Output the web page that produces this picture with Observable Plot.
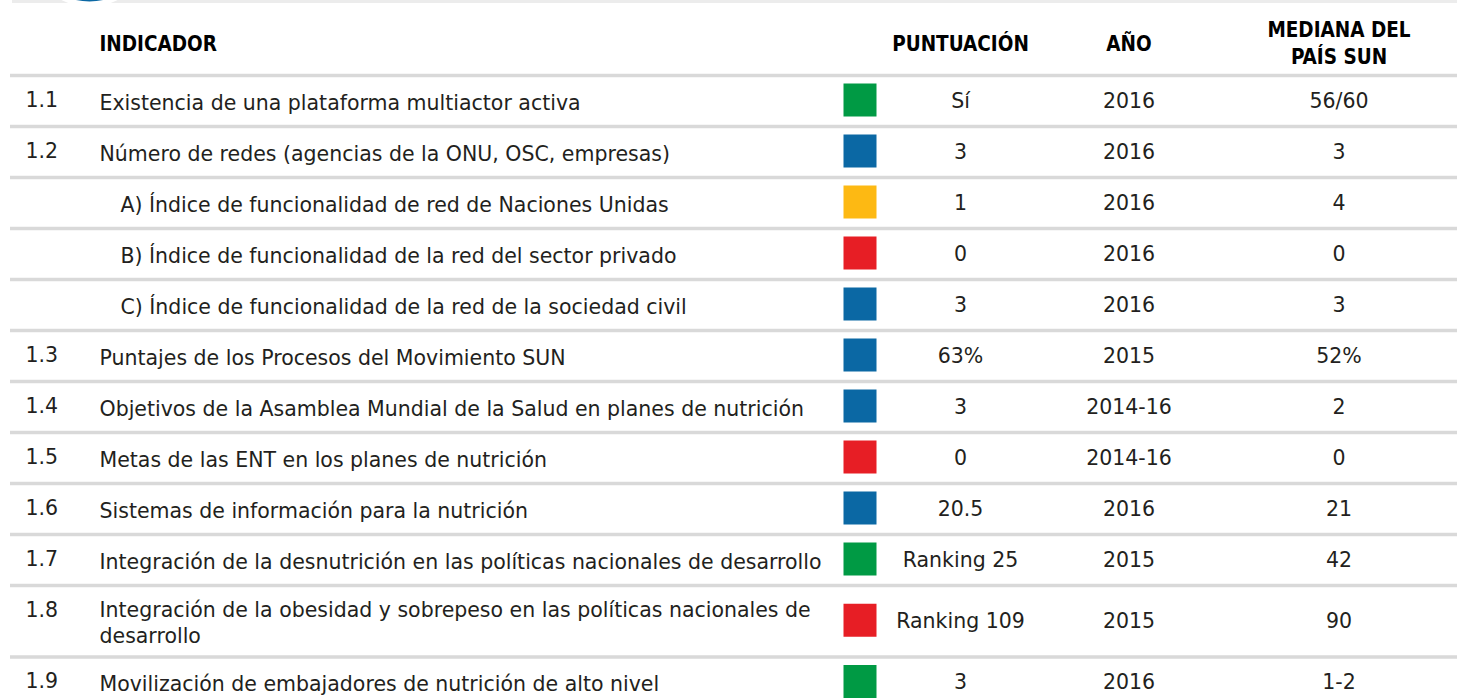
<!DOCTYPE html>
<html>
<head>
<meta charset="utf-8">
<script src="https://cdn.jsdelivr.net/npm/d3@7"></script>
<script src="https://cdn.jsdelivr.net/npm/@observablehq/plot@0.6"></script>
<style>
  html, body { margin: 0; padding: 0; background: #fff; }
  #chart svg { display: block; }
</style>
</head>
<body>
<div id="chart"></div>
<script>
// ---------- DATA ----------
const ids = ["1.1", "1.2", "", "", "", "1.3", "1.4", "1.5", "1.6", "1.7", "1.8", "1.9"];
const indicators = [
  "Existencia de una plataforma multiactor activa",
  "Número de redes (agencias de la ONU, OSC, empresas)",
  "A) Índice de funcionalidad de red de Naciones Unidas",
  "B) Índice de funcionalidad de la red del sector privado",
  "C) Índice de funcionalidad de la red de la sociedad civil",
  "Puntajes de los Procesos del Movimiento SUN",
  "Objetivos de la Asamblea Mundial de la Salud en planes de nutrición",
  "Metas de las ENT en los planes de nutrición",
  "Sistemas de información para la nutrición",
  "Integración de la desnutrición en las políticas nacionales de desarrollo",
  "Integración de la obesidad y sobrepeso en las políticas nacionales de\ndesarrollo",
  "Movilización de embajadores de nutrición de alto nivel"
];
const isSubItem = [false, false, true, true, true, false, false, false, false, false, false, false];
const statuses = ["verde", "azul", "amarillo", "rojo", "azul", "azul", "azul", "rojo", "azul", "verde", "rojo", "verde"];
const scores = ["Sí", "3", "1", "0", "3", "63%", "3", "0", "20.5", "Ranking 25", "Ranking 109", "3"];
const years = ["2016", "2016", "2016", "2016", "2016", "2015", "2014-16", "2014-16", "2016", "2015", "2015", "2016"];
const medians = ["56/60", "3", "4", "0", "3", "52%", "2", "0", "21", "42", "90", "1-2"];

const headerKeys = ["text", "score", "year", "median"];
const headerLabels = ["INDICADOR", "PUNTUACIÓN", "AÑO", "MEDIANA DEL\nPAÍS SUN"];

const statusDomain = ["verde", "azul", "amarillo", "rojo"];
const statusColors = ["#009a44", "#0b68a4", "#fdb913", "#e71e25"];

// ---------- LAYOUT ----------
const W = 1457, H = 700;
const TOP = 75;         // px where the first row starts
const ROW = 51;         // px of a one-line row
const EXTRA_LINE = 0.4; // extra row units per additional text line
const L = {
  ruleLeft: 10, bandLeft: 12,
  num: 25, text: 99, subText: 120,
  swatch: 859.5, score: 960, year: 1128.5, median: 1338.5
};
const px = v => (v - TOP) / ROW; // pixel -> row units (layout helper)

// build table rows
let acc = 0;
const rows = ids.map((id, i) => {
  const lines = indicators[i].split("\n").length;
  const h = 1 + (lines - 1) * EXTRA_LINE;
  const r = {
    id, text: indicators[i], sub: isSubItem[i], status: statuses[i],
    score: scores[i], year: years[i], median: medians[i],
    top: acc, mid: acc + h / 2
  };
  acc += h;
  return r;
});
const headers = headerKeys.map((k, i) => ({key: k, label: headerLabels[i]}));

const bodyFont = "DejaVu Sans, Liberation Sans, sans-serif";
const headFont = "'DejaVu Sans Condensed', 'Liberation Sans Narrow', sans-serif";
const ink = "#231f20";
const bodySize = 20.5;
const headOpts = {
  y: px(41.5), text: "label", lineAnchor: "middle", lineHeight: 1.32,
  fontFamily: headFont, fontWeight: "bold", fontSize: 20.5, fill: "#000"
};

const chart = Plot.plot({
  width: W,
  height: H,
  margin: 0,
  x: {type: "linear", domain: [0, W], range: [0, W], axis: null},
  y: {type: "linear", domain: [px(0), px(H)], range: [0, H], axis: null},
  color: {type: "ordinal", domain: statusDomain, range: statusColors},
  style: {fontFamily: bodyFont, background: "#fff", overflow: "visible"},
  marks: [
    // top decorative band and badge
    Plot.ruleY([px(1)], {x1: L.bandLeft, x2: W, stroke: "#ececec", strokeWidth: 3}),
    Plot.dot([{x: 89, y: px(-56.5)}], {x: "x", y: "y", r: 60, fill: "#0b68a4", stroke: "#fff", strokeWidth: 5}),
    // row separators
    Plot.ruleY(rows, {y: "top", x1: L.ruleLeft, x2: W, stroke: "#d9d9d9", strokeWidth: 3.5}),
    // headers
    Plot.text(headers.filter(d => d.key === "text"), {...headOpts, x: d => L[d.key], textAnchor: "start"}),
    Plot.text(headers.filter(d => d.key !== "text"), {...headOpts, x: d => L[d.key], textAnchor: "middle"}),
    // indicator numbers
    Plot.text(rows, {
      x: L.num, y: "top", dy: 24.5, text: "id", textAnchor: "start", lineAnchor: "middle",
      fontSize: bodySize, fill: ink
    }),
    // indicator descriptions
    Plot.text(rows, {
      x: d => d.sub ? L.subText : L.text, y: "mid", dy: 0.5, text: "text",
      textAnchor: "start", lineAnchor: "middle", lineHeight: 1.27, fontSize: bodySize, fill: ink
    }),
    // status squares
    Plot.dot(rows, {
      x: L.swatch, y: "mid", dy: -1, r: Math.sqrt(33 * 33 / Math.PI), symbol: "square", fill: "status"
    }),
    // score, year, median
    Plot.text(rows, {x: L.score, y: "mid", dy: 0.5, text: "score", textAnchor: "middle", lineAnchor: "middle", fontSize: bodySize, fill: ink}),
    Plot.text(rows, {x: L.year, y: "mid", dy: 0.5, text: "year", textAnchor: "middle", lineAnchor: "middle", fontSize: bodySize, fill: ink}),
    Plot.text(rows, {x: L.median, y: "mid", dy: 0.5, text: "median", textAnchor: "middle", lineAnchor: "middle", fontSize: bodySize, fill: ink})
  ]
});
document.getElementById("chart").appendChild(chart);
</script>
</body>
</html>
